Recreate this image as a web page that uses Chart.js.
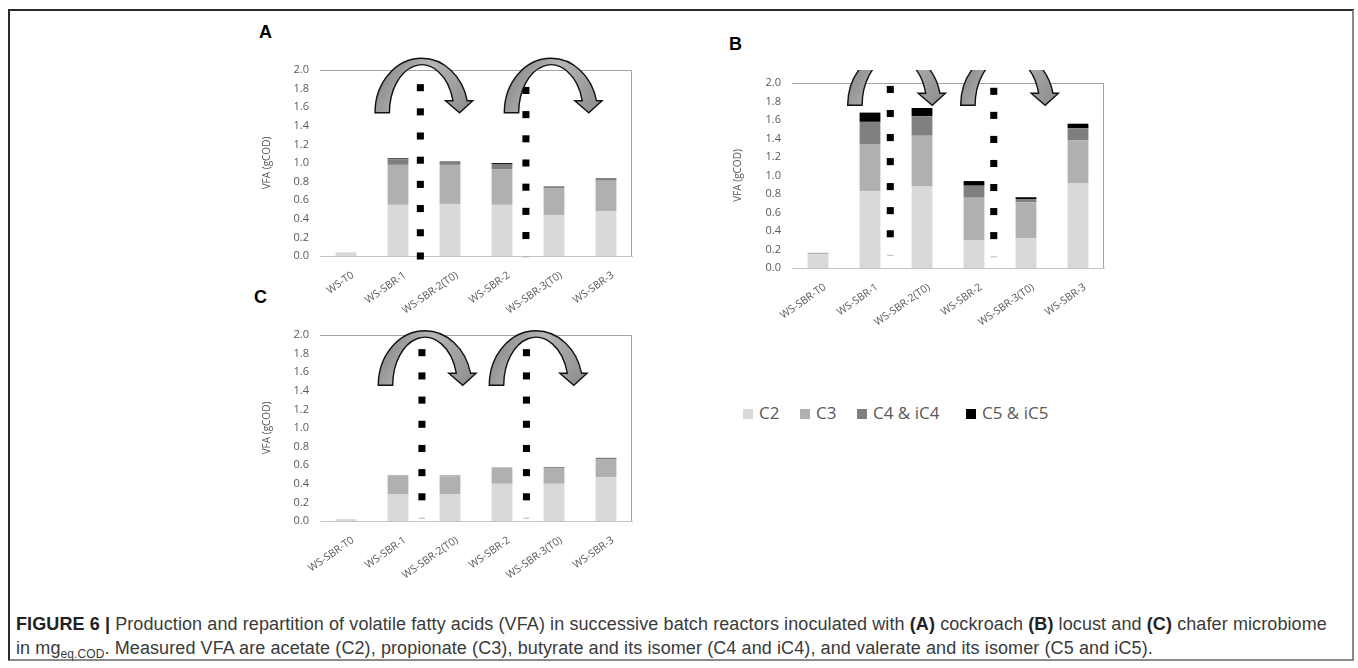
<!DOCTYPE html>
<html>
<head>
<meta charset="utf-8">
<script src="https://cdn.jsdelivr.net/npm/chart.js@4.4.0/dist/chart.umd.min.js"></script>
<style>
  html, body { margin: 0; padding: 0; background: #fff; }
  body { position: relative; width: 1358px; height: 668px; overflow: hidden; font-family: "Liberation Sans", Arial, sans-serif; }
  .frame { position: absolute; left: 8px; top: 9px; width: 1346px; height: 652px; box-sizing: border-box;
           border: 2px solid #8a8a8a; border-top-color: #2a2a2a; border-left-color: #2a2a2a; }
  .panel { position: absolute; overflow: hidden; }
  .tag { position: absolute; font: bold 18px "Liberation Sans", Arial, sans-serif; color: #000; line-height: 1; }
  .legend-item { position: absolute; top: 402px; height: 22px; font: 17px "Open Sans", sans-serif; color: #595959; line-height: 22px; white-space: nowrap; }
  .legend-item i { position: absolute; left: 0; top: 7px; width: 10px; height: 10px; }
  .legend-item span { position: absolute; top: 0; }
  .caption { position: absolute; left: 16px; top: 612px; width: 1336px; font: 18px "Liberation Sans", Arial, sans-serif;
             letter-spacing: 0.1px; color: #3a3a3a; line-height: 24px; white-space: nowrap; }
  .caption b { color: #222; }
  .caption sub { font-size: 12px; vertical-align: -4px; line-height: 0; }
</style>
</head>
<body>
<div class="frame"></div>

<div class="tag" style="left:259px;top:23px;">A</div>
<div class="tag" style="left:729px;top:35px;">B</div>
<div class="tag" style="left:254px;top:288px;">C</div>

<div class="panel" style="left:250px;top:40px;"><canvas id="chartA" width="400" height="290"></canvas></div>
<div class="panel" style="left:720px;top:70px;"><canvas id="chartB" width="400" height="270"></canvas></div>
<div class="panel" style="left:250px;top:305px;"><canvas id="chartC" width="400" height="290"></canvas></div>

<div id="legend"></div>

<div class="caption">
  <div><b>FIGURE 6 |</b> Production and repartition of volatile fatty acids (VFA) in successive batch reactors inoculated with <b>(A)</b> cockroach <b>(B)</b> locust and <b>(C)</b> chafer microbiome</div>
  <div>in mg<sub>eq.COD</sub>. Measured VFA are acetate (C2), propionate (C3), butyrate and its isomer (C4 and iC4), and valerate and its isomer (C5 and iC5).</div>
</div>

<script>
// Reactor runs on the category axis
const categoriesA = ['WS-T0', 'WS-SBR-1', 'WS-SBR-2(T0)', 'WS-SBR-2', 'WS-SBR-3(T0)', 'WS-SBR-3'];
const categoriesBC = ['WS-SBR-T0', 'WS-SBR-1', 'WS-SBR-2(T0)', 'WS-SBR-2', 'WS-SBR-3(T0)', 'WS-SBR-3'];

// Acid groups and their fills
const seriesNames = ['C2', 'C3', 'C4 & iC4', 'C5 & iC5'];
const seriesColors = ['#d9d9d9', '#b0b0b0', '#7f7f7f', '#000000'];

// Y axis ticks (gCOD)
const yTickValues = [0.0, 0.2, 0.4, 0.6, 0.8, 1.0, 1.2, 1.4, 1.6, 1.8, 2.0];

// (A) cockroach inoculum
const cockroachC2 = [0.04, 0.55, 0.56, 0.55, 0.44, 0.48];
const cockroachC3 = [0.00, 0.43, 0.42, 0.38, 0.29, 0.33];
const cockroachC4 = [0.00, 0.06, 0.04, 0.06, 0.02, 0.02];
const cockroachC5 = [0.00, 0.01, 0.00, 0.01, 0.00, 0.005];

// (B) locust inoculum
const locustC2 = [0.15, 0.83, 0.88, 0.30, 0.32, 0.92];
const locustC3 = [0.015, 0.51, 0.55, 0.46, 0.39, 0.46];
const locustC4 = [0.00, 0.24, 0.21, 0.13, 0.035, 0.13];
const locustC5 = [0.00, 0.10, 0.09, 0.05, 0.02, 0.05];

// (C) chafer inoculum
const chaferC2 = [0.02, 0.29, 0.29, 0.40, 0.40, 0.47];
const chaferC3 = [0.00, 0.20, 0.19, 0.17, 0.17, 0.19];
const chaferC4 = [0.00, 0.005, 0.01, 0.005, 0.01, 0.02];
const chaferC5 = [0.00, 0.00, 0.00, 0.00, 0.00, 0.00];

// Dotted separators between reactor transfers: position on the run axis and heights of the squares
const cockroachSepX = [1.43, 3.46];
const cockroachSepY1 = [1.81, 1.55, 1.29, 1.03, 0.77, 0.51, 0.25, 0.00];
const cockroachSepY2 = [1.78, 1.52, 1.26, 1.00, 0.74, 0.48, 0.22];
const cockroachDash = [null, -0.01];

const locustSepX = [1.39, 3.38];
const locustSepY1 = [1.93, 1.67, 1.41, 1.15, 0.88, 0.62, 0.37];
const locustSepY2 = [1.91, 1.65, 1.39, 1.13, 0.87, 0.61, 0.35];
const locustDash = [0.137, 0.12];

const chaferSepX = [1.46, 3.47];
const chaferSepY1 = [1.81, 1.56, 1.30, 1.04, 0.78, 0.52, 0.26];
const chaferSepY2 = [1.81, 1.56, 1.30, 1.04, 0.78, 0.52, 0.26];
const chaferDash = [0.03, 0.03];

// Foot of each curved transfer arrow, in run-axis / gCOD units
const cockroachArrows = [{ x: 0.558, y: 1.54 }, { x: 3.044, y: 1.54 }];
const locustArrows = [{ x: 0.571, y: 1.76 }, { x: 2.744, y: 1.76 }];
const chaferArrows = [{ x: 0.621, y: 1.46 }, { x: 2.756, y: 1.46 }];

const TEXT_GREY = '#595959';

// Curved "carry-over" arrow: thick arc that ends in a downward head
function drawTransferArrow(ctx, lx, ly) {
  const rxO = 46.7, ryO = 54.5, rxI = 32.3, ryI = 48, rise = 12;
  const cx = lx + rxO;
  const aO = Math.asin(rise / ryO), aI = Math.asin(rise / ryI);
  const endO = cx + rxO * Math.cos(aO), endI = cx + rxI * Math.cos(aI);
  ctx.save();
  ctx.beginPath();
  ctx.ellipse(cx, ly, rxO, ryO, 0, Math.PI, 2 * Math.PI - aO, false);
  ctx.lineTo(endO + 5.5, ly - rise);
  ctx.lineTo(lx + 84.5, ly);
  ctx.lineTo(endI - 7.5, ly - rise);
  ctx.lineTo(endI, ly - rise);
  ctx.ellipse(cx, ly, rxI, ryI, 0, 2 * Math.PI - aI, Math.PI, true);
  ctx.closePath();
  const g = ctx.createLinearGradient(lx, ly - ryO, lx + 98, ly);
  g.addColorStop(0, '#7c7c7c');
  g.addColorStop(0.45, '#b6b6b6');
  g.addColorStop(1, '#8a8a8a');
  ctx.fillStyle = g;
  ctx.fill();
  ctx.lineWidth = 1.4;
  ctx.lineJoin = 'miter';
  ctx.strokeStyle = '#111';
  ctx.stroke();
  ctx.restore();
}

const plotFrame = {
  id: 'plotFrame',
  beforeDatasetsDraw(chart) {
    const { ctx, chartArea: a } = chart;
    ctx.save();
    ctx.strokeStyle = '#a3a3a3';
    ctx.lineWidth = 1;
    ctx.beginPath();
    ctx.moveTo(a.left, a.top + 0.5);
    ctx.lineTo(a.right - 0.5, a.top + 0.5);
    ctx.lineTo(a.right - 0.5, a.bottom);
    ctx.stroke();
    ctx.restore();
  }
};

const transferArrows = {
  id: 'transferArrows',
  afterDatasetsDraw(chart, args, opts) {
    const xs = chart.scales.xs, ys = chart.scales.ys;
    (opts.anchors || []).forEach(p => {
      drawTransferArrow(chart.ctx, xs.getPixelForValue(p.x), ys.getPixelForValue(p.y));
    });
  }
};

function buildChart(id, labels, stacks, sepX, sepY1, sepY2, dash, arrows, pad, yWidth, xHeight) {
  const bars = stacks.map((vals, i) => ({
    type: 'bar',
    label: seriesNames[i],
    data: vals,
    backgroundColor: seriesColors[i],
    borderWidth: 0,
    grouped: false,
    barPercentage: 0.5,
    categoryPercentage: 0.8,
    xAxisID: 'x',
    yAxisID: 'y',
    order: 2
  }));
  const squares = [sepY1, sepY2].map((ys, k) => ({
    type: 'scatter',
    label: 'sep' + k,
    data: ys.map(v => ({ x: sepX[k], y: v })),
    pointStyle: 'rect',
    pointRadius: 5,
    pointBorderWidth: 0,
    backgroundColor: '#000',
    borderColor: '#000',
    xAxisID: 'xs',
    yAxisID: 'ys',
    clip: false,
    order: 1
  }));
  const dashes = {
    type: 'scatter',
    label: 'base',
    data: dash.map((v, k) => (v === null ? null : { x: sepX[k], y: v })).filter(d => d),
    pointStyle: 'line',
    pointRadius: 3,
    borderWidth: 1,
    borderColor: '#b5b5b5',
    backgroundColor: '#b5b5b5',
    xAxisID: 'xs',
    yAxisID: 'ys',
    clip: false,
    order: 1
  };

  return new Chart(document.getElementById(id), {
    type: 'bar',
    data: { labels: labels, datasets: [...bars, ...squares, dashes] },
    plugins: [plotFrame, transferArrows],
    options: {
      responsive: false,
      animation: false,
      events: [],
      layout: { padding: pad },
      plugins: {
        legend: { display: false },
        tooltip: { enabled: false },
        transferArrows: { anchors: arrows }
      },
      scales: {
        x: {
          stacked: true,
          offset: true,
          grid: { display: false },
          border: { display: true, color: '#c4c4c4', width: 1 },
          ticks: {
            color: TEXT_GREY,
            font: { family: 'Open Sans', size: 10.5 },
            autoSkip: false,
            minRotation: 35,
            maxRotation: 35,
            padding: 5,
            labelOffset: 7
          },
          afterFit(scale) { scale.height = xHeight; }
        },
        y: {
          stacked: true,
          min: yTickValues[0],
          max: yTickValues[yTickValues.length - 1],
          grid: { display: false },
          border: { display: false },
          afterBuildTicks(scale) { scale.ticks = yTickValues.map(v => ({ value: v })); },
          ticks: {
            color: TEXT_GREY,
            font: { family: 'Open Sans', size: 11 },
            padding: 3,
            callback: v => Number(v).toFixed(1)
          },
          title: {
            display: true,
            text: 'VFA (gCOD)',
            color: TEXT_GREY,
            font: { family: 'Open Sans', size: 10 },
            padding: { top: 4, bottom: 4 }
          },
          afterFit(scale) { scale.width = yWidth; }
        },
        xs: { type: 'linear', display: false, offset: false, min: -0.5, max: labels.length - 0.5 },
        ys: { type: 'linear', display: false, offset: false, min: yTickValues[0], max: yTickValues[yTickValues.length - 1] }
      }
    }
  });
}

buildChart('chartA', categoriesA, [cockroachC2, cockroachC3, cockroachC4, cockroachC5],
  cockroachSepX, cockroachSepY1, cockroachSepY2, cockroachDash, cockroachArrows,
  { left: 7, right: 18, top: 30, bottom: 0 }, 63, 74);

buildChart('chartB', categoriesBC, [locustC2, locustC3, locustC4, locustC5],
  locustSepX, locustSepY1, locustSepY2, locustDash, locustArrows,
  { left: 8, right: 16, top: 13, bottom: 0 }, 64, 72);

buildChart('chartC', categoriesBC, [chaferC2, chaferC3, chaferC4, chaferC5],
  chaferSepX, chaferSepY1, chaferSepY2, chaferDash, chaferArrows,
  { left: 7, right: 18, top: 30, bottom: 0 }, 63, 74);

// Shared legend for the three panels
const legendX = [743, 800, 857, 966];
const legend = document.getElementById('legend');
seriesNames.forEach((name, i) => {
  const item = document.createElement('div');
  item.className = 'legend-item';
  item.style.left = legendX[i] + 'px';
  const sw = document.createElement('i');
  sw.style.background = seriesColors[i];
  const tx = document.createElement('span');
  tx.style.left = '16px';
  tx.textContent = name;
  item.appendChild(sw);
  item.appendChild(tx);
  legend.appendChild(item);
});
</script>
</body>
</html>
